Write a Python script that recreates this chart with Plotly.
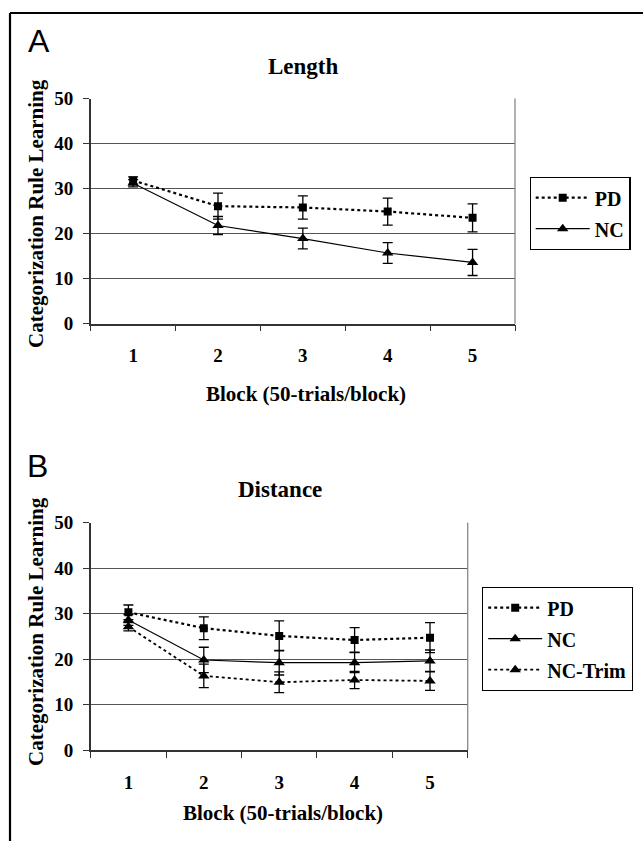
import plotly.graph_objects as go

W, H = 643, 841

blocks = [1, 2, 3, 4, 5]
block_labels = ["1", "2", "3", "4", "5"]

# Panel A: Length
a_pd = [31.8, 26.1, 25.8, 24.9, 23.5]
a_pd_err = [0.8, 2.9, 2.6, 3.0, 3.1]
a_nc = [31.2, 21.8, 18.9, 15.7, 13.6]
a_nc_err = [0.8, 2.0, 2.3, 2.3, 2.9]

# Panel B: Distance
b_pd = [30.3, 26.8, 25.1, 24.2, 24.7]
b_pd_err = [1.6, 2.5, 3.3, 2.7, 3.3]
b_nc = [28.6, 19.8, 19.2, 19.2, 19.6]
b_nc_err = [1.2, 2.8, 2.7, 2.2, 2.4]
b_trim = [27.1, 16.3, 14.9, 15.4, 15.2]
b_trim_err = [0.9, 2.6, 2.3, 1.9, 2.1]

y_ticks = [0, 10, 20, 30, 40, 50]

SERIF = "Liberation Serif, Times New Roman, serif"
SANS = "Liberation Sans, Arial, sans-serif"


def px(x):
    return x / W


def py(y):
    return 1 - y / H


def err(e):
    return dict(type="data", array=e, visible=True, color="black",
                thickness=1.3, width=5)


fig = go.Figure()

# Panel A traces
fig.add_trace(go.Scatter(x=blocks, y=a_pd, name="PD", mode="lines+markers",
                         line=dict(color="black", width=2.2, dash="dot"),
                         marker=dict(symbol="square", size=8, color="black"),
                         error_y=err(a_pd_err), xaxis="x", yaxis="y",
                         legend="legend", legendgroup="a1"))
fig.add_trace(go.Scatter(x=blocks, y=a_nc, name="NC", mode="lines+markers",
                         line=dict(color="black", width=1.2),
                         marker=dict(symbol="triangle-up", size=10, color="black"),
                         error_y=err(a_nc_err), xaxis="x", yaxis="y",
                         legend="legend", legendgroup="a2"))

# Panel B traces
fig.add_trace(go.Scatter(x=blocks, y=b_pd, name="PD", mode="lines+markers",
                         line=dict(color="black", width=2.2, dash="dot"),
                         marker=dict(symbol="square", size=8, color="black"),
                         error_y=err(b_pd_err), xaxis="x2", yaxis="y2",
                         legend="legend2", legendgroup="b1"))
fig.add_trace(go.Scatter(x=blocks, y=b_nc, name="NC", mode="lines+markers",
                         line=dict(color="black", width=1.2),
                         marker=dict(symbol="triangle-up", size=10, color="black"),
                         error_y=err(b_nc_err), xaxis="x2", yaxis="y2",
                         legend="legend2", legendgroup="b2"))
fig.add_trace(go.Scatter(x=blocks, y=b_trim, name="NC-Trim", mode="lines+markers",
                         line=dict(color="black", width=1.8, dash="dot"),
                         marker=dict(symbol="triangle-up", size=10, color="black"),
                         error_y=err(b_trim_err), xaxis="x2", yaxis="y2",
                         legend="legend2", legendgroup="b3"))

xa_common = dict(range=[0.5, 5.5], tickvals=blocks, ticktext=block_labels,
                 ticks="", showgrid=False, zeroline=False,
                 showline=True, linecolor="#333", linewidth=1.5,
                 tickfont=dict(family=SERIF, size=19, color="black",
                               weight="bold"),
                 ticklabelstandoff=14, fixedrange=True,
                 minor=dict(tickvals=[0.5, 1.5, 2.5, 3.5, 4.5, 5.5],
                            ticks="outside", ticklen=6, tickcolor="#333",
                            tickwidth=1.2, showgrid=False))
ya_common = dict(range=[0, 50], tickvals=y_ticks, ticks="outside", ticklen=6,
                 tickcolor="#333", tickwidth=1.2,
                 showgrid=True, gridcolor="#555", gridwidth=1.2,
                 zeroline=False, showline=True, linecolor="#333", linewidth=1.5,
                 tickfont=dict(family=SERIF, size=19, color="black",
                               weight="bold"),
                 ticklabelstandoff=6, fixedrange=True)

legend_common = dict(xanchor="left", yanchor="top",
                     bordercolor="black", borderwidth=1.2, bgcolor="white",
                     font=dict(family=SERIF, size=20, color="black",
                               weight="bold"),
                     tracegroupgap=2, traceorder="grouped", itemwidth=54)

fig.update_layout(
    width=W, height=H,
    margin=dict(l=0, r=0, t=0, b=0, autoexpand=False),
    paper_bgcolor="white", plot_bgcolor="white",
    xaxis=dict(domain=[px(90.7), px(515)], anchor="y", **xa_common),
    yaxis=dict(domain=[py(323.7), py(98.5)], anchor="x", **ya_common),
    xaxis2=dict(domain=[px(90.7), px(467.7)], anchor="y2", **xa_common),
    yaxis2=dict(domain=[py(750), py(522.7)], anchor="x2", **ya_common),
    legend=dict(x=px(529.5), y=py(177), **legend_common),
    legend2=dict(x=px(482), y=py(587), **legend_common),
    showlegend=True,
)

# Plot-area right borders (gray)
for xr, yt, yb in [(515, 98.5, 323.7), (467.7, 522.7, 750)]:
    fig.add_shape(type="line", xref="paper", yref="paper",
                  x0=px(xr), x1=px(xr), y0=py(yb), y1=py(yt),
                  line=dict(color="#888", width=1.3))

# Outer frame (top and left)
fig.add_shape(type="line", xref="paper", yref="paper",
              x0=px(10), x1=1, y0=py(13), y1=py(13),
              line=dict(color="black", width=2.2))
fig.add_shape(type="line", xref="paper", yref="paper",
              x0=px(10), x1=px(10), y0=0, y1=py(13),
              line=dict(color="black", width=2.2))

annots = [
    dict(text="A", x=px(26), y=py(41), xanchor="left", yanchor="middle",
         font=dict(family=SANS, size=32, color="black")),
    dict(text="B", x=px(25), y=py(466), xanchor="left", yanchor="middle",
         font=dict(family=SANS, size=32, color="black")),
    dict(text="<b>Length</b>", x=px(303), y=py(66), xanchor="center",
         yanchor="middle", font=dict(family=SERIF, size=23, color="black")),
    dict(text="<b>Distance</b>", x=px(280), y=py(489), xanchor="center",
         yanchor="middle", font=dict(family=SERIF, size=23, color="black")),
    dict(text="<b>Block (50-trials/block)</b>", x=px(306), y=py(394),
         xanchor="center", yanchor="middle",
         font=dict(family=SERIF, size=21, color="black")),
    dict(text="<b>Block (50-trials/block)</b>", x=px(283), y=py(813),
         xanchor="center", yanchor="middle",
         font=dict(family=SERIF, size=21, color="black")),
    dict(text="<b>Categorization Rule Learning</b>", x=px(36), y=py(214),
         xanchor="center", yanchor="middle", textangle=-90,
         font=dict(family=SERIF, size=21, color="black")),
    dict(text="<b>Categorization Rule Learning</b>", x=px(36), y=py(632),
         xanchor="center", yanchor="middle", textangle=-90,
         font=dict(family=SERIF, size=21, color="black")),
]
for a in annots:
    fig.add_annotation(xref="paper", yref="paper", showarrow=False, **a)

fig.write_html("out.html", config={"displayModeBar": False},
               post_script="document.body.style.margin='0px';"
                           "document.documentElement.style.overflow='hidden';")
